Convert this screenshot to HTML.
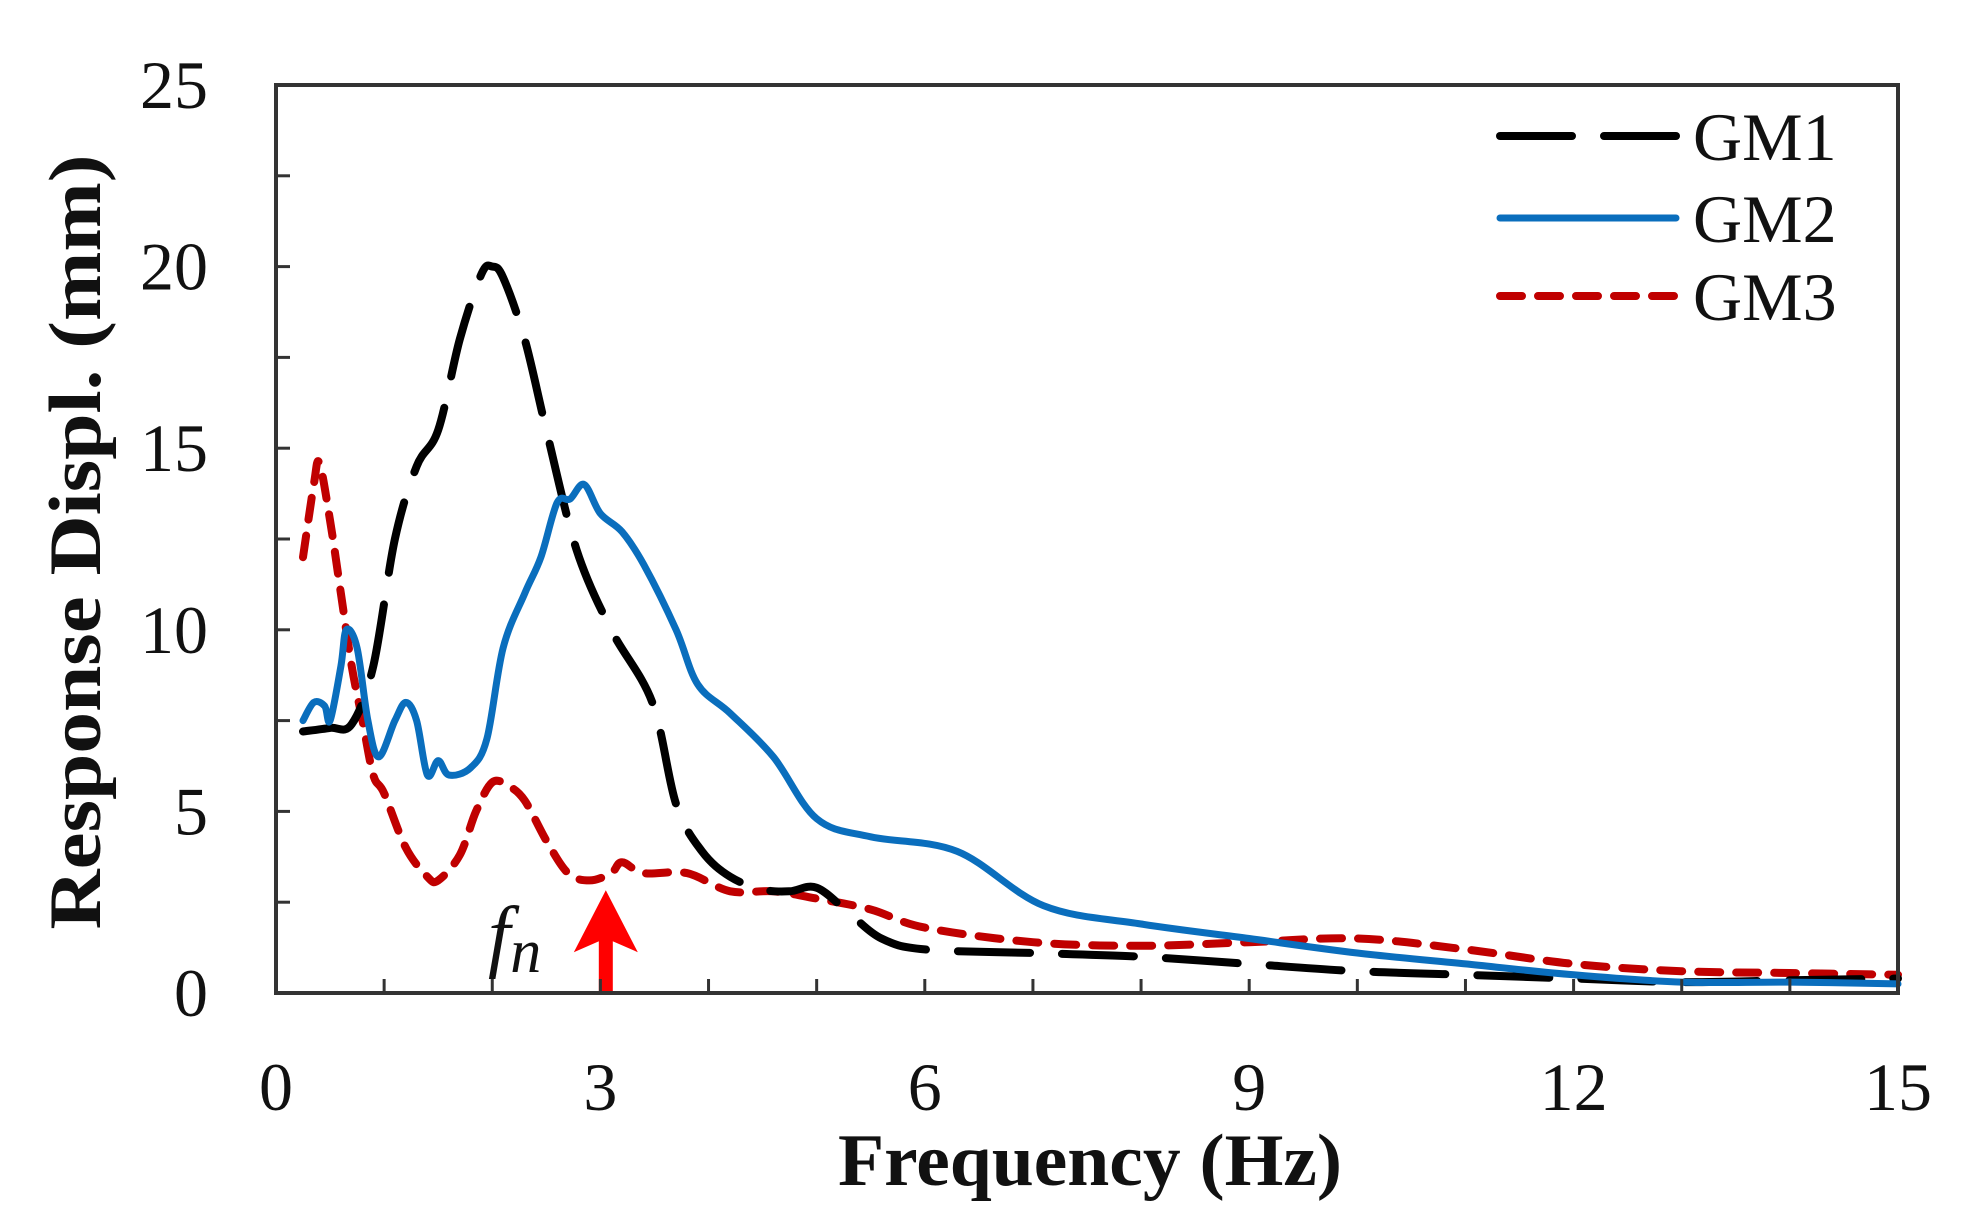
<!DOCTYPE html>
<html><head><meta charset="utf-8"><style>
html,body{margin:0;padding:0;background:#fff;}
svg{display:block;}
text{font-family:"Liberation Serif",serif;fill:#111;}
</style></head><body>
<svg id="chart" width="1965" height="1230" viewBox="0 0 1965 1230" xmlns="http://www.w3.org/2000/svg">
<g id="series"></g>
<g id="axes"></g>
<text transform="translate(100,542) rotate(-90)" text-anchor="middle" font-size="74" font-weight="bold" textLength="775" lengthAdjust="spacingAndGlyphs">Response Displ. (mm)</text>
<text x="1090" y="1185" text-anchor="middle" font-size="74" font-weight="bold" textLength="504" lengthAdjust="spacingAndGlyphs">Frequency (Hz)</text>
<text x="488" y="962" font-size="80" font-style="italic">f<tspan font-size="62" dy="10">n</tspan></text>
<g>
  <line x1="1500" y1="136" x2="1676" y2="136" stroke="#000" stroke-width="8" stroke-dasharray="72 32" stroke-linecap="round"/>
  <text x="1693" y="160" font-size="68">GM1</text>
  <line x1="1500" y1="218" x2="1676" y2="218" stroke="#0a6ebd" stroke-width="7" stroke-linecap="round"/>
  <text x="1693" y="242" font-size="68">GM2</text>
  <line x1="1500" y1="296" x2="1676" y2="296" stroke="#c00000" stroke-width="8" stroke-dasharray="22 16" stroke-linecap="round"/>
  <text x="1693" y="320" font-size="68">GM3</text>
</g>
</svg>
<script>
const xTicks = [0,3,6,9,12,15];
const yTicks = [0,5,10,15,20,25];
const gm1F = [0.25,0.5,0.7,0.9,1.1,1.3,1.5,1.7,1.9,2.0,2.1,2.3,2.5,2.78,3.1,3.48,3.7,3.94,4.2,4.5,4.75,5.0,5.3,5.6,6.0,7,8,9,10,11,12,13,14,15];
const gm1V = [7.2,7.3,7.4,9,12.5,14.5,15.5,18,19.8,20,19.7,18,15.5,12.2,10,8,5.2,3.9,3.2,2.85,2.8,2.9,2.2,1.5,1.2,1.1,1.0,0.8,0.6,0.5,0.4,0.3,0.35,0.4];
const gm2F = [0.25,0.35,0.45,0.5,0.6,0.65,0.75,0.85,0.95,1.1,1.2,1.3,1.4,1.5,1.6,1.8,1.95,2.1,2.3,2.45,2.6,2.72,2.85,3.0,3.2,3.4,3.7,3.9,4.2,4.6,5.0,5.5,6.3,7.1,8,9,10,11,12,13,14,15];
const gm2V = [7.5,8,7.9,7.5,9,10,9.5,7.5,6.5,7.5,8,7.5,6,6.4,6,6.2,7,9.5,11,12,13.5,13.6,14,13.2,12.7,11.8,10,8.5,7.7,6.5,4.8,4.3,3.9,2.4,1.9,1.5,1.1,0.8,0.5,0.3,0.3,0.25];
const gm3F = [0.25,0.35,0.4,0.5,0.6,0.7,0.8,0.9,1.0,1.2,1.4,1.5,1.7,1.85,2.0,2.15,2.3,2.5,2.7,2.9,3.1,3.2,3.4,3.8,4.2,4.6,5,5.5,6,7,8,9,10,11,12,13,14,15];
const gm3V = [12,14,14.6,13,11,9,7.5,6,5.5,4,3.2,3.1,3.8,5,5.8,5.7,5.3,4.2,3.3,3.1,3.3,3.6,3.3,3.3,2.8,2.8,2.6,2.3,1.8,1.4,1.3,1.4,1.5,1.2,0.8,0.6,0.55,0.5];
const fnFreq = 3.05;
const fnTip = 2.83;

const X0=276, X1=1898, Y0=993, Y1=85;
const xS = f => X0 + (X1-X0)*f/15;
const yS = v => Y0 - (Y0-Y1)*v/25;
const NS='http://www.w3.org/2000/svg';
const series=document.getElementById('series');
const axes=document.getElementById('axes');
function mk(tag,attrs,parent){const e=document.createElementNS(NS,tag);for(const k in attrs)e.setAttribute(k,attrs[k]);parent.appendChild(e);return e;}
function drawLine(F,V,color,w,dash,name){
  const P=F.map((f,i)=>[xS(f),yS(V[i])]);
  let d='M'+P[0][0].toFixed(1)+','+P[0][1].toFixed(1);
  for(let i=0;i<P.length-1;i++){
    const p0=P[Math.max(i-1,0)],p1=P[i],p2=P[i+1],p3=P[Math.min(i+2,P.length-1)];
    const c1=[p1[0]+(p2[0]-p0[0])/6,p1[1]+(p2[1]-p0[1])/6];
    const c2=[p2[0]-(p3[0]-p1[0])/6,p2[1]-(p3[1]-p1[1])/6];
    d+=` C${c1[0].toFixed(1)},${c1[1].toFixed(1)} ${c2[0].toFixed(1)},${c2[1].toFixed(1)} ${p2[0].toFixed(1)},${p2[1].toFixed(1)}`;
  }
  const p=mk('path',{d:d,fill:'none',stroke:color,'stroke-width':w,'stroke-linejoin':'round','stroke-linecap':'round'},series);
  if(dash)p.setAttribute('stroke-dasharray',dash);
  
  
}
drawLine(gm3F,gm3V,'#c00000',8,'22 16','series-gm3');
drawLine(gm1F,gm1V,'#000',8,'72 32','series-gm1');
drawLine(gm2F,gm2V,'#0a6ebd',7,null,'series-gm2');

const ax=xS(fnFreq), at=yS(fnTip), ab=yS(0);
const sh=mk('rect',{x:ax-7,y:at+40,width:14,height:ab-at-40,fill:'#ff0000'},series);


const hd=mk('polygon',{points:`${ax},${at} ${ax+32},${at+62} ${ax},${at+48} ${ax-32},${at+62}`,fill:'#ff0000'},series);



const fr=mk('rect',{x:X0,y:Y1,width:X1-X0,height:Y0-Y1,fill:'none',stroke:'#333','stroke-width':4},axes);


for(let f=1;f<15;f++){
  const t=mk('line',{x1:xS(f),x2:xS(f),y1:Y0,y2:Y0-14,stroke:'#333','stroke-width':3},axes);
  
  
}
for(let v=2.5;v<25;v+=2.5){
  const t=mk('line',{x1:X0,x2:X0+14,y1:yS(v),y2:yS(v),stroke:'#333','stroke-width':3},axes);
  
  
}
xTicks.forEach(f=>{
  const t=mk('text',{x:xS(f),y:1110,'text-anchor':'middle','font-size':68},axes);
  t.textContent=f;
  
  
});
yTicks.forEach(v=>{
  const t=mk('text',{x:208,y:yS(v)+23,'text-anchor':'end','font-size':68},axes);
  t.textContent=v;
  
  
});
</script>
</body></html>
